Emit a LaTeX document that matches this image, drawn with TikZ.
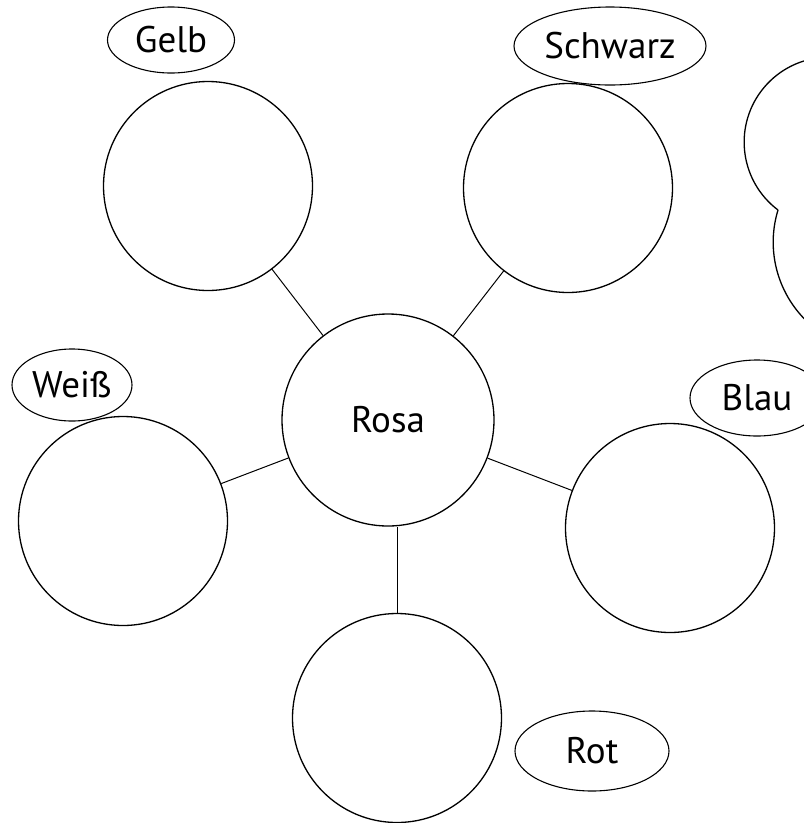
\documentclass[tikz,border=0pt]{standalone}
\usepackage{fontspec}
\setmainfont{PT Sans}
\usetikzlibrary{shapes.geometric}
\tikzstyle{bubble} = [circle, minimum size=209pt, inner sep=0pt, draw=black, line width=1.3pt, font=\fontsize{37}{44}\selectfont]
\tikzstyle{tag} = [ellipse, inner sep=0pt, draw=black, line width=1.1pt, font=\fontsize{37}{44}\selectfont]
\tikzstyle{link} = [line width=1pt]

\begin{document}
\begin{tikzpicture}[x=1pt, y=-1pt]
            \useasboundingbox (0,0) rectangle (804,823);
            \node (rosa) [bubble, minimum size=212pt] at (388,420) {Rosa};
            \node (gelb) [bubble] at (208,186) {};
            \node (schwarz) [bubble] at (568,188) {};
            \node (weiss) [bubble] at (123,521) {};
            \node (blau) [bubble] at (670,528) {};
            \node (rot) [bubble] at (397,718) {};
            \node (gelbTag) [tag, minimum width=127pt, minimum height=66pt] at (171,40) {Gelb};
            \node (schwarzTag) [tag, minimum width=192pt, minimum height=78pt] at (610,46) {Schwarz};
            \node (weissTag) [tag, minimum width=120pt, minimum height=72pt] at (72,385) {Weiß};
            \node (blauTag) [tag, minimum width=134pt, minimum height=76pt] at (757,398) {Blau};
            \node (rotTag) [tag, minimum width=154pt, minimum height=80pt] at (592,751) {Rot};
            \coordinate (cusp) at (778,210);

            \draw [link] (gelb) -- (rosa);
            \draw [link] (schwarz) -- (rosa);
            \draw [link] (weiss) -- (rosa);
            \draw [link] (blau) -- (rosa);
            \draw [link] (rot) -- (rot |- rosa.south);
            % cloud cut off at the right edge
            \draw [line width=1.3pt] (cusp) arc[start angle=127, end angle=265, radius=85];
            \draw [line width=1.3pt] (cusp) arc[start angle=197, end angle=125, radius=110];
        \end{tikzpicture}
\end{document}
